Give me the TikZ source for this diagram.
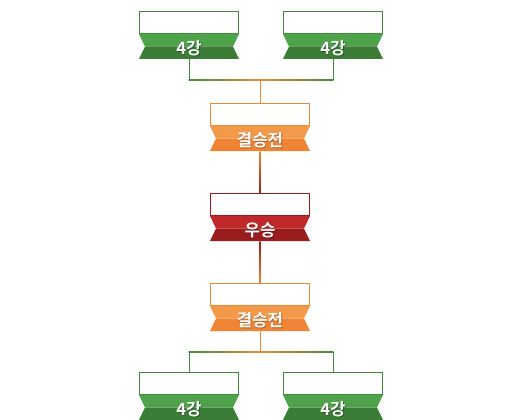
\documentclass[tikz,border=0pt]{standalone}
\usepackage{fontspec}
\newfontfamily\kr[UprightFont=* Bold]{Noto Sans CJK KR}
\usetikzlibrary{calc}
\definecolor{gborder}{HTML}{3F8A3A}
\definecolor{glight}{HTML}{4EA24A}
\definecolor{gdark}{HTML}{3B7C37}
\definecolor{oborder}{HTML}{EF8A33}
\definecolor{olight}{HTML}{F2994A}
\definecolor{odark}{HTML}{EE8434}
\definecolor{rborder}{HTML}{9E1B1B}
\definecolor{rlight}{HTML}{C0292A}
\definecolor{rdark}{HTML}{9B1C1D}
\tikzset{
  cardbox/.style={draw, fill=white, line width=1pt, minimum width=99pt, minimum height=22pt, inner sep=0pt, outer sep=0pt},
  ribtext/.style={text=white, font=\kr\fontsize{16.8}{17}\selectfont, inner sep=0pt},
  ribshadow/.style={font=\kr\fontsize{16.8}{17}\selectfont, inner sep=0pt, opacity=0.6},
  gline/.style={draw=gborder, line width=1pt},
  oline/.style={draw=oborder, line width=1pt}
}
% name, cx, top, border, light, dark, text
\newcommand\mycard[7]{%
  \node[cardbox, draw=#4] (#1) at (#2,#3+11.5) {};
  \fill[#5] (#2-50,#3+23) -- (#2+50,#3+23) -- (#2+44,#3+35.5) -- (#2-44,#3+35.5) -- cycle;
  \fill[#6] (#2-44,#3+35.5) -- (#2+44,#3+35.5) -- (#2+50,#3+48) -- (#2-50,#3+48) -- cycle;
  \node[ribshadow, text=#6!55!black] (#1s) at (#2+0.8,#3+38.3) {#7};
  \node[ribtext] (#1t) at (#2,#3+37.5) {#7};
  \coordinate (#1-bot) at (#2,#3+48);
}
\begin{document}
\begin{tikzpicture}[x=1pt,y=-1pt]
\useasboundingbox (0,0) rectangle (520,420);
\mycard{tl}{189}{11}{gborder}{glight}{gdark}{4강}
\mycard{tr}{333}{11}{gborder}{glight}{gdark}{4강}
\mycard{oa}{260}{103}{oborder}{olight}{odark}{결승전}
\mycard{w}{260}{193}{rborder}{rlight}{rdark}{우승}
\mycard{ob}{260}{283}{oborder}{olight}{odark}{결승전}
\mycard{bl}{189}{372}{gborder}{glight}{gdark}{4강}
\mycard{br}{333}{372}{gborder}{glight}{gdark}{4강}
% top junction
\coordinate (j1) at (260,80);
\draw[gline] (tl-bot) -- (tl-bot|-j1);
\draw[gline] (tr-bot) -- (tr-bot|-j1);
\shade[left color=gborder, right color=oborder] ($(tl-bot|-j1)+(-0.5,-0.5)$) rectangle ($(j1)+(0,0.5)$);
\shade[left color=oborder, right color=gborder] ($(j1)+(0,-0.5)$) rectangle ($(tr-bot|-j1)+(0.5,0.5)$);
\draw[oline] (j1) -- (oa.north);
% center
\shade[top color=oborder, bottom color=rborder] ($(oa-bot)+(-0.5,0)$) rectangle ($(w.north)+(0.5,0)$);
\shade[top color=rborder, bottom color=oborder] ($(w-bot)+(-0.5,0)$) rectangle ($(ob.north)+(0.5,0)$);
% bottom junction
\coordinate (j2) at (260,352);
\draw[oline] (ob-bot) -- (j2);
\draw[gline] (bl.north) -- (bl.north|-j2);
\draw[gline] (br.north) -- (br.north|-j2);
\shade[left color=gborder, right color=oborder] ($(bl.north|-j2)+(-0.5,-0.5)$) rectangle ($(j2)+(0,0.5)$);
\shade[left color=oborder, right color=gborder] ($(j2)+(0,-0.5)$) rectangle ($(br.north|-j2)+(0.5,0.5)$);
\end{tikzpicture}
\end{document}
